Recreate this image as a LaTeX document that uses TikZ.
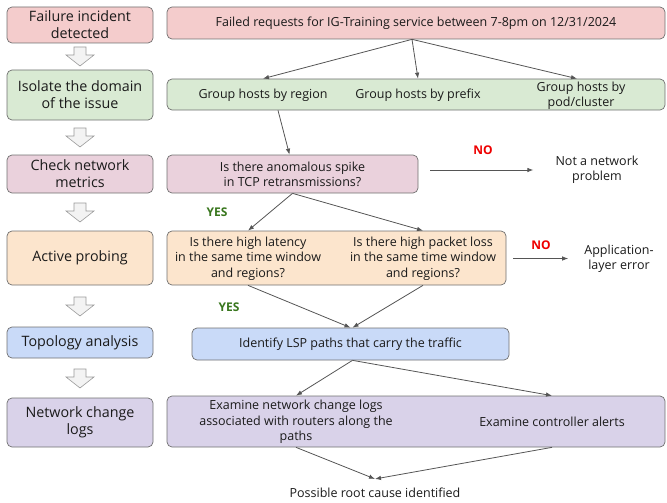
\documentclass[tikz,border=0pt]{standalone}
\usepackage{fontspec}
\setmainfont{Open Sans}
\usetikzlibrary{arrows.meta,calc}
\definecolor{cpink}{HTML}{F4CCCC}
\definecolor{cgreen}{HTML}{D9EAD3}
\definecolor{cmauve}{HTML}{EAD1DC}
\definecolor{corange}{HTML}{FCE5CD}
\definecolor{cblue}{HTML}{C9DAF8}
\definecolor{cpurple}{HTML}{D9D2E9}
\definecolor{cborder}{HTML}{707070}
\definecolor{ctext}{HTML}{1A1A1A}
\definecolor{cline}{HTML}{555555}
\definecolor{cyes}{HTML}{38761D}
\definecolor{cno}{HTML}{EE0000}
\definecolor{barfill}{HTML}{F3F3F3}
\definecolor{bardraw}{HTML}{9A9A9A}
\tikzset{
  box/.style={draw=cborder, line width=0.7pt, rounded corners=5pt, inner sep=0pt},
  lbox/.style={box, minimum width=146pt, align=center, text=ctext, font=\fontsize{14.3}{17}\selectfont},
  rtext/.style={inner sep=0pt, align=center, text=ctext, font=\fontsize{12.5}{15.3}\selectfont},
  arr/.style={draw=cline, line width=0.8pt, -{Latex[length=6pt,width=4.5pt]}},
  yes/.style={inner sep=0pt, text=cyes, font=\fontsize{12}{13}\selectfont\bfseries},
  no/.style={inner sep=0pt, text=cno, font=\fontsize{12}{13}\selectfont\bfseries},
  pics/downarrow/.style={code={
    \draw[fill=barfill, draw=bardraw, line width=0.6pt]
      (-6,0) -- (6,0) -- (6,8) -- (14,8) -- (0,19) -- (-14,8) -- (-6,8) -- cycle;}}
}
\begin{document}
\begin{tikzpicture}[x=1pt,y=-1pt]
\useasboundingbox (0,0) rectangle (667,503);
% left column
\node[lbox, fill=cpink, minimum height=36pt] (L1) at (80,25) {Failure incident\\detected};
\node[lbox, fill=cgreen, minimum height=50pt] (L2) at (80,95) {Isolate the domain\\of the issue};
\node[lbox, fill=cmauve, minimum height=38pt] (L3) at (80,174) {Check network\\metrics};
\node[lbox, fill=corange, minimum height=54pt] (L4) at (80,258) {Active probing};
\node[lbox, fill=cblue, minimum height=31pt] (L5) at (80,342.5) {Topology analysis};
\node[lbox, fill=cpurple, minimum height=49pt] (L6) at (80,422.5) {Network change\\logs};
\pic at (80,47) {downarrow};
\pic at (80,128) {downarrow};
\pic at (80,203) {downarrow};
\pic at (80,297) {downarrow};
\pic at (80,369) {downarrow};
% right column boxes
\node[box, fill=cpink, minimum width=498pt, minimum height=32pt, rtext] (R1) at (416,23) {Failed requests for IG-Training service between 7-8pm on 12/31/2024};
\node[box, fill=cgreen, minimum width=498pt, minimum height=31pt] (R2) at (416,94.5) {};
\node[rtext] (tregion) at (263,95) {Group hosts by region};
\node[rtext] (tprefix) at (418,95) {Group hosts by prefix};
\node[rtext] (tpod) at (581,95.5) {Group hosts by\\pod/cluster};
\node[box, fill=cmauve, minimum width=251pt, minimum height=38pt, rtext] (R3) at (292.5,174) {Is there anomalous spike\\in TCP retransmissions?};
\node[rtext] (tnotnet) at (597,170) {Not a network\\problem};
\node[box, fill=corange, minimum width=339pt, minimum height=54pt] (R4) at (336.5,258) {};
\node[rtext] (tlat) at (248,258.5) {Is there high latency\\in the same time window\\and regions?};
\node[rtext] (tloss) at (423,258.5) {Is there high packet loss\\in the same time window\\and regions?};
\node[rtext] (tapp) at (619,258.5) {Application-\\layer error};
\node[box, fill=cblue, minimum width=317pt, minimum height=32pt, rtext] (R5) at (350.5,344) {Identify LSP paths that carry the traffic};
\node[box, fill=cpurple, minimum width=498pt, minimum height=51pt] (R6) at (416,421.5) {};
\node[rtext] (texam) at (296,422) {Examine network change logs\\associated with routers along the\\paths};
\node[rtext] (tctrl) at (552,422) {Examine controller alerts};
\node[rtext] (tfinal) at (375,493) {Possible root cause identified};
% labels
\node[no] (no1) at (483,150) {NO};
\node[yes] (yes1) at (217,212) {YES};
\node[no] (no2) at (541,245) {NO};
\node[yes] (yes2) at (229,307) {YES};
% free ends
\coordinate (nnend) at ([xshift=-22pt]tnotnet.west);
\coordinate (append) at ([xshift=-16pt]tapp.west);
\coordinate (finend) at ([yshift=9pt]tfinal.north);
% connectors
\draw[arr] ([xshift=-4pt]R1.south) -- (tregion |- R2.north);
\draw[arr] ([xshift=-4pt]R1.south) -- (tprefix |- R2.north);
\draw[arr] ([xshift=-4pt]R1.south) -- ([xshift=-4pt]tpod.north |- R2.north);
\draw[arr] ([xshift=-138pt]R2.south) -- ([xshift=-3pt]R3.north);
\draw[arr] ([xshift=12pt]R3.east |- tnotnet.west) -- (nnend);
\draw[arr] (R3.south) -- (tlat |- R4.north);
\draw[arr] (R3.south) -- (tloss |- R4.north);
\draw[arr] ([xshift=7pt]R4.east |- tapp.west) -- (append);
\draw[arr] (tlat |- R4.south) -- (R5.north);
\draw[arr] (tloss |- R4.south) -- ([xshift=2pt]R5.north);
\draw[arr] ([xshift=2pt]R5.south) -- (texam |- R6.north);
\draw[arr] ([xshift=2pt]R5.south) -- (tctrl |- R6.north);
\draw[arr] (texam |- R6.south) -- (finend);
\draw[arr] (tctrl |- R6.south) -- (finend);
\end{tikzpicture}
\end{document}
